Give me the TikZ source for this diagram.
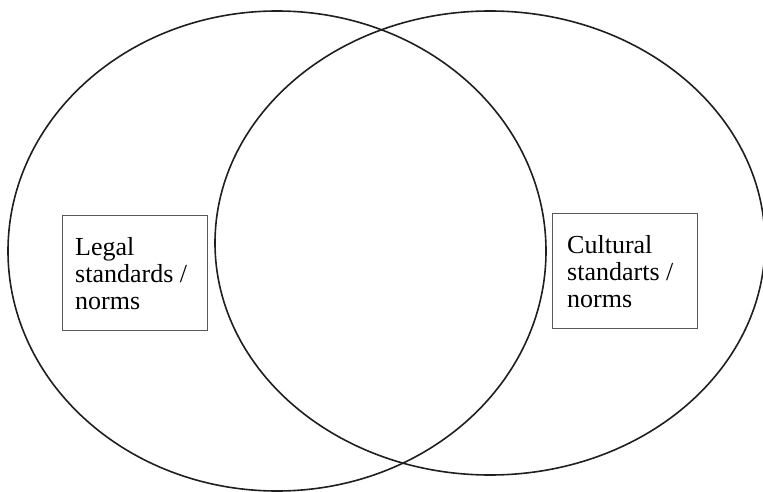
\documentclass[tikz,border=0pt]{standalone}
\usepackage{fontspec}
\setmainfont{Liberation Serif}
\begin{document}
\begin{tikzpicture}[x=1pt,y=-1pt,
  ring/.style={draw=black!88,line width=1.6pt},
  boxframe/.style={draw=black!65,line width=0.9pt},
  label/.style={anchor=base west,inner sep=0pt,align=left,font=\fontsize{26}{27}\selectfont}]
\useasboundingbox (0,0) rectangle (763,492);
\begin{scope}
\clip (0,0) rectangle (763,492);
\draw[ring] (277,251) ellipse [x radius=269,y radius=240];
\draw[ring] (490,243) ellipse [x radius=275,y radius=232];
\end{scope}
\draw[boxframe] (62,215) rectangle (207,330);
\draw[boxframe] (552,213) rectangle (697,328);
\node[label] (legal) at (75,309) {Legal\\standards /\\norms};
\node[label] (cult) at (567,307) {Cultural\\standarts /\\norms};
\end{tikzpicture}
\end{document}
